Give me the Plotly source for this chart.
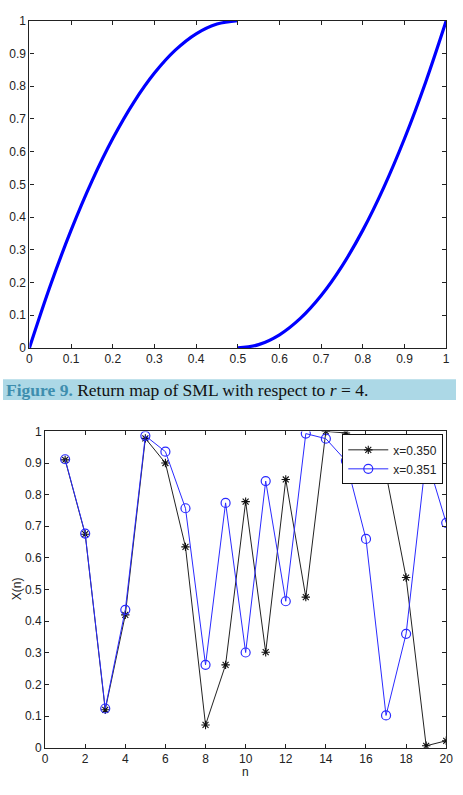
import plotly.graph_objects as go

# ---- Return map (top) ----
left_x = [0.0, 0.05, 0.10, 0.15, 0.20, 0.25, 0.30, 0.35, 0.40, 0.45, 0.50]
left_y = [0.0, 0.19, 0.36, 0.51, 0.64, 0.75, 0.84, 0.91, 0.96, 0.99, 1.0]
right_x = [0.50, 0.55, 0.60, 0.65, 0.70, 0.75, 0.80, 0.85, 0.90, 0.95, 1.0]
right_y = [0.0, 0.01, 0.04, 0.09, 0.16, 0.25, 0.36, 0.49, 0.64, 0.81, 1.0]

# ---- Time series (bottom) ----
n = list(range(1, 21))
x350 = [0.910, 0.675, 0.120, 0.420, 0.978, 0.900, 0.635, 0.072, 0.262, 0.778,
        0.302, 0.848, 0.476, 1.000, 0.995, 0.965, 0.866, 0.538, 0.006, 0.022]
x351 = [0.912, 0.677, 0.124, 0.436, 0.986, 0.936, 0.757, 0.262, 0.774, 0.301,
        0.843, 0.463, 0.993, 0.977, 0.907, 0.660, 0.102, 0.360, 0.921, 0.711]

W, H = 463, 795
def px(x): return x / W
def py(y): return (H - y) / H

FONT = "Liberation Sans, Arial, sans-serif"

fig = go.Figure()
for xs, ys in [(left_x, left_y), (right_x, right_y)]:
    fig.add_trace(go.Scatter(x=xs, y=ys, mode="lines", line=dict(color="#0000ff", width=3.2, shape="spline"),
                             showlegend=False, xaxis="x", yaxis="y"))

fig.add_trace(go.Scatter(x=n, y=x350, mode="lines+markers", name="x=0.350",
                         line=dict(color="#222222", width=1),
                         marker=dict(symbol="asterisk-open", size=7, color="#111111", line=dict(color="#111111", width=1.1)),
                         xaxis="x2", yaxis="y2"))
fig.add_trace(go.Scatter(x=n, y=x351, mode="lines+markers", name="x=0.351",
                         line=dict(color="#2a2aff", width=1),
                         marker=dict(symbol="circle-open", size=9, color="#2a2aff", line=dict(color="#2a2aff", width=1.2)),
                         xaxis="x2", yaxis="y2"))

axis_common = dict(showline=True, linecolor="#222", linewidth=1.2, mirror="ticks", ticks="inside",
                   ticklen=4, tickcolor="#222", showgrid=False, zeroline=False,
                   tickfont=dict(family=FONT, size=12, color="#222"))

fig.update_layout(
    width=W, height=H, margin=dict(l=0, r=0, t=0, b=0),
    paper_bgcolor="white", plot_bgcolor="white",
    xaxis=dict(domain=[px(27), px(453)], range=[0, 1], dtick=0.1, anchor="y", **axis_common),
    yaxis=dict(domain=[py(347), py(14)], range=[0, 1], dtick=0.1, anchor="x", **axis_common),
    xaxis2=dict(domain=[px(43), px(453)], range=[0, 20], dtick=2, anchor="y2", **axis_common),
    yaxis2=dict(domain=[py(754), py(432)], range=[0, 1], dtick=0.1, anchor="x2", **axis_common),
    legend=dict(x=px(450), y=py(435), xanchor="right", yanchor="top",
                bgcolor="white", bordercolor="#111", borderwidth=1,
                font=dict(family=FONT, size=12, color="#222"),
                tracegroupgap=0, itemwidth=40),
    shapes=[dict(type="rect", xref="paper", yref="paper", x0=0, x1=1, y0=py(400), y1=py(379),
                 fillcolor="#acd8e6", line=dict(width=0), layer="below")],
    annotations=[
        dict(x=px(1), y=py(389.5), xref="paper", yref="paper", xanchor="left", yanchor="middle", showarrow=False,
             text="<span style='color:#3e8eae'><b>Figure 9.</b></span> Return map of SML with respect to <i>r</i> = 4.",
             font=dict(family="Liberation Serif, Times New Roman, serif", size=17.5, color="#111")),
        dict(x=px(14), y=py(592), xref="paper", yref="paper", xanchor="center", yanchor="middle", showarrow=False,
             text="X(n)", textangle=-90, font=dict(family=FONT, size=12, color="#222")),
        dict(x=px(248), y=py(779), xref="paper", yref="paper", xanchor="center", yanchor="middle", showarrow=False,
             text="n", font=dict(family=FONT, size=12, color="#222")),
    ],
)

fig.write_html("out.html")
